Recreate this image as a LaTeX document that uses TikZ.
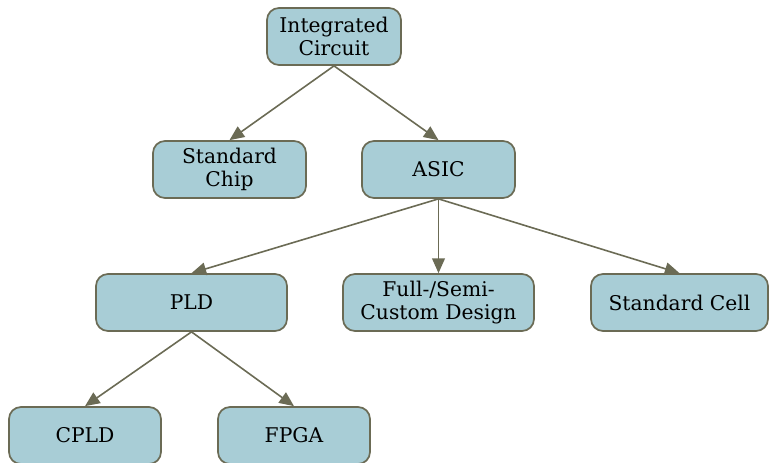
\documentclass[tikz,border=0pt]{standalone}
\usepackage{fontspec}
\setmainfont{DejaVu Serif}
\usetikzlibrary{arrows.meta}
\definecolor{boxfill}{HTML}{A8CDD6}
\definecolor{boxline}{HTML}{6B6B55}
\begin{document}
\begin{tikzpicture}[x=0.75pt,y=-0.75pt,
  box/.style={draw=boxline, fill=boxfill, line width=1.3pt, rounded corners=9pt,
    minimum height=42.75pt, align=center, inner sep=0pt,
    font=\fontsize{15.2}{17.3}\selectfont},
  arr/.style={draw=boxline, line width=1.2pt, -{Triangle[length=11pt,width=9.5pt]}}]
\useasboundingbox (0,0) rectangle (770,462);
% hierarchy of integrated circuit families
\node[box, minimum width=100.5pt] (ic)   at (334,36.5)   {Integrated\\Circuit};
\node[box, minimum width=114.75pt] (sc)  at (229.5,169.5) {Standard\\Chip};
\node[box, minimum width=114.75pt] (asic) at (438.5,169.5) {ASIC};
\node[box, minimum width=143.25pt] (pld) at (191.5,302.5) {PLD};
\node[box, minimum width=143.25pt] (fc)  at (438.5,302.5) {Full-/Semi-\\Custom Design};
\node[box, minimum width=132.75pt] (cell) at (679.5,302.5) {Standard Cell};
\node[box, minimum width=114pt] (cpld) at (85,435.5)  {CPLD};
\node[box, minimum width=114pt] (fpga) at (294,435.5) {FPGA};
% connectors
\draw[arr] (ic.south) -- (sc.north);
\draw[arr] (ic.south) -- (asic.north);
\draw[arr] (asic.south) -- (pld.north);
\draw[arr] (asic.south) -- (fc.north);
\draw[arr] (asic.south) -- (cell.north);
\draw[arr] (pld.south) -- (cpld.north);
\draw[arr] (pld.south) -- (fpga.north);
\end{tikzpicture}
\end{document}
